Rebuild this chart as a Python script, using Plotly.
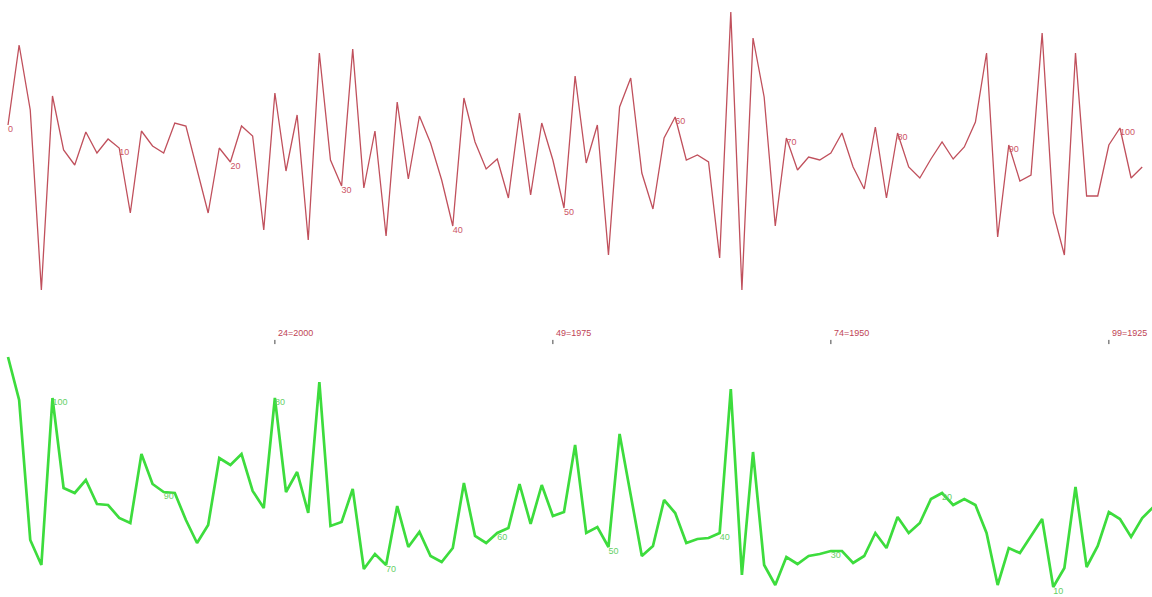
import plotly.graph_objects as go

# --- data ---
red_index = list(range(0, 103))
red_values = [472, 552, 487, 307, 501, 447, 432, 465, 444, 458,
              449, 384, 466, 451, 444, 474, 471, 427, 384, 449,
              435, 471, 461, 367, 504, 426, 482, 357, 544, 437,
              411, 548, 409, 466, 361, 495, 418, 481, 454, 417,
              371, 499, 455, 428, 438, 399, 484, 402, 474, 437,
              389, 521, 434, 472, 342, 490, 519, 424, 388, 459,
              480, 437, 442, 435, 339, 585, 307, 559, 500, 371,
              459, 427, 440, 437, 444, 464, 430, 408, 470, 399,
              464, 430, 419, 438, 455, 438, 450, 475, 544, 360,
              452, 416, 422, 564, 384, 342, 544, 401, 401, 452,
              469, 419, 430]

green_pos = list(range(0, 104))
green_ids = list(range(104, 0, -1))
green_values = [240, 197, 57, 32, 199, 109, 104, 117, 93, 92,
                79, 74, 143, 113, 105, 104, 77, 54, 72, 139,
                132, 143, 106, 89, 199, 105, 125, 84, 215, 71,
                75, 108, 28, 43, 32, 91, 50, 65, 41, 35,
                49, 114, 61, 54, 64, 69, 113, 73, 112, 81,
                85, 152, 64, 70, 50, 163, 102, 41, 51, 97,
                84, 54, 58, 59, 64, 208, 22, 145, 32, 12,
                40, 33, 41, 43, 46, 46, 34, 41, 64, 49,
                80, 64, 74, 98, 104, 92, 98, 92, 64, 12,
                49, 44, 61, 78, 10, 29, 110, 30, 51, 85,
                78, 60, 79, 90]

tick_index = [24, 49, 74, 99]
tick_year = [2000, 1975, 1950, 1925]
tick_level = 255
tick_label_level = 264

FONT = "Liberation Sans, Arial, sans-serif"

red_text = [str(i) if i % 10 == 0 else "" for i in red_index]
green_text = [str(g) if g % 10 == 0 else "" for g in green_ids]

fig = go.Figure()

fig.add_trace(go.Scatter(
    x=red_index, y=red_values, mode="lines+text",
    line=dict(color="#c0505c", width=1.3),
    text=red_text, textposition="bottom right",
    textfont=dict(family=FONT, size=9, color="#cc5566"),
    hoverinfo="skip", showlegend=False,
))

fig.add_trace(go.Scatter(
    x=green_pos, y=green_values, mode="lines+text",
    line=dict(color="#3ddc3d", width=2.7),
    text=green_text, textposition="bottom right",
    textfont=dict(family=FONT, size=9, color="#66d066"),
    hoverinfo="skip", showlegend=False,
))

fig.add_trace(go.Scatter(
    x=tick_index, y=[tick_level] * len(tick_index), mode="markers",
    marker=dict(symbol="line-ns", size=3, line=dict(color="#444444", width=1)),
    hoverinfo="skip", showlegend=False,
))

for ti, ty in zip(tick_index, tick_year):
    fig.add_annotation(
        x=ti, y=tick_label_level, text=f"{ti}={ty}",
        showarrow=False, xanchor="left", yanchor="middle", xshift=1,
        font=dict(family=FONT, size=9, color="#c04455"),
    )

fig.update_layout(
    width=1152, height=597,
    margin=dict(l=0, r=0, t=0, b=0),
    paper_bgcolor="white", plot_bgcolor="white",
    xaxis=dict(range=[-0.72, 102.88], visible=False, fixedrange=True),
    yaxis=dict(range=[0, 597], visible=False, fixedrange=True),
)

fig.write_html(
    "out.html",
    config={"displayModeBar": False},
    post_script="document.body.style.margin='0';document.body.style.overflow='hidden';",
)
